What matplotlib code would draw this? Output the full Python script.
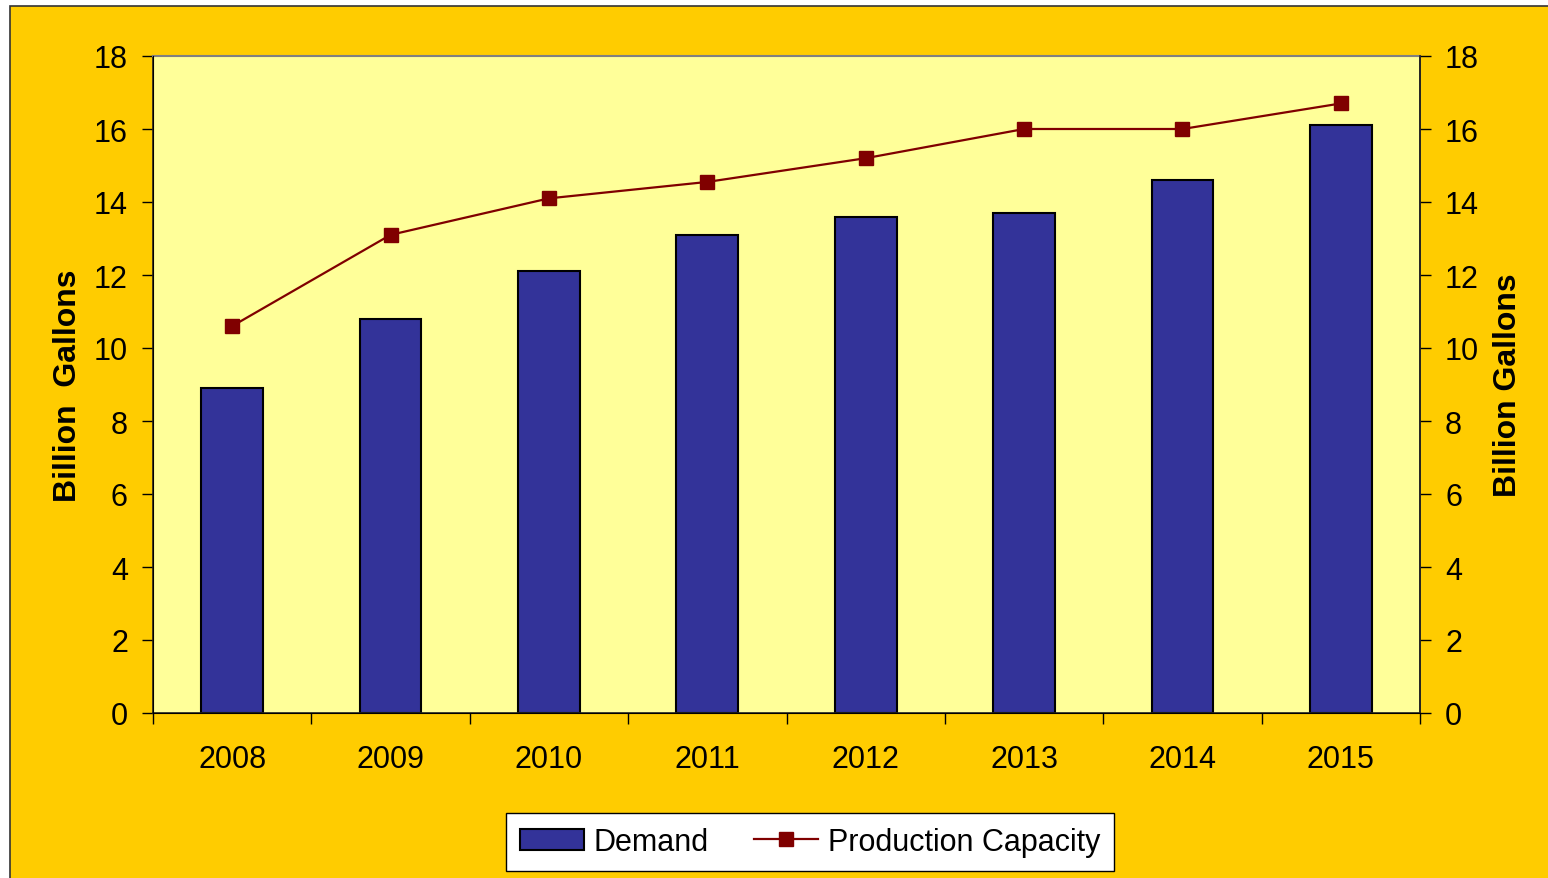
import matplotlib.pyplot as plt
from matplotlib.patches import Rectangle
import numpy as np

years = ["2008", "2009", "2010", "2011", "2012", "2013", "2014", "2015"]
demand = [8.9, 10.8, 12.1, 13.1, 13.6, 13.7, 14.6, 16.1]
capacity = [10.6, 13.1, 14.1, 14.55, 15.2, 16.0, 16.0, 16.7]

plt.rcParams["font.family"] = ["Liberation Sans", "DejaVu Sans"]

fig = plt.figure(figsize=(15.48, 8.79), dpi=100)
fig.patch.set_facecolor("white")

# outer chart area with thin dark frame, kept behind the axes
fig.patches.append(Rectangle((10 / 1548, -0.01), 1.0, 1 - 7 / 879 + 0.01,
                             transform=fig.transFigure, facecolor="#FFCC00",
                             edgecolor="#333333", linewidth=1.2, zorder=-10))

ax = fig.add_axes([153 / 1548, (879 - 714) / 879, (1420 - 153) / 1548, (714 - 57) / 879])
ax.set_facecolor("#FFFF99")

x = np.arange(len(years))
bars = ax.bar(x, demand, width=0.39, color="#333399", edgecolor="black", linewidth=1.5,
              label="Demand", zorder=2)
line, = ax.plot(x, capacity, color="#800000", linewidth=1.6, marker="s", markersize=9.5,
                label="Production Capacity", zorder=3)

ax.set_xlim(-0.5, len(years) - 0.5)
ax.set_ylim(0, 18)
ax.set_yticks(range(0, 19, 2))
ax.set_xticks(x)
ax.set_xticklabels(years)
ax.set_xticks(np.arange(-0.5, len(years), 1), minor=True)
ax.tick_params(axis="x", which="major", length=0, pad=22, labelsize=22)
ax.tick_params(axis="x", which="minor", length=8, direction="out", width=1)
ax.tick_params(axis="y", length=8, width=1, direction="out", labelsize=22, pad=10)

for side in ["left", "right", "bottom"]:
    ax.spines[side].set_color("#222222")
    ax.spines[side].set_linewidth(1.2)
ax.spines["top"].set_color("#808080")
ax.spines["top"].set_linewidth(1.5)

ax.set_ylabel("Billion  Gallons", fontsize=23, fontweight="bold", labelpad=8)

ax2 = ax.twinx()
ax2.set_ylim(0, 18)
ax2.set_yticks(range(0, 19, 2))
ax2.tick_params(axis="y", length=8, width=1, direction="out", labelsize=22, pad=10)
ax2.spines["right"].set_color("#222222")
ax2.spines["right"].set_linewidth(1.2)
ax2.spines["top"].set_visible(False)
ax2.set_ylabel("Billion Gallons", fontsize=23, fontweight="bold", labelpad=10)

leg = ax.legend(handles=[bars, line], loc="center",
                bbox_to_anchor=(810 / 1548, 1 - 843 / 879),
                bbox_transform=fig.transFigure, ncol=2, fontsize=22,
                frameon=True, fancybox=False, handlelength=2.1,
                handleheight=0.7, columnspacing=1.5, borderpad=0.45,
                handletextpad=0.3, borderaxespad=0)
leg.get_frame().set_edgecolor("black")
leg.get_frame().set_linewidth(1)
leg.get_frame().set_facecolor("white")
leg.get_frame().set_alpha(1)

fig.savefig("out.png", dpi=100, facecolor=fig.get_facecolor())
